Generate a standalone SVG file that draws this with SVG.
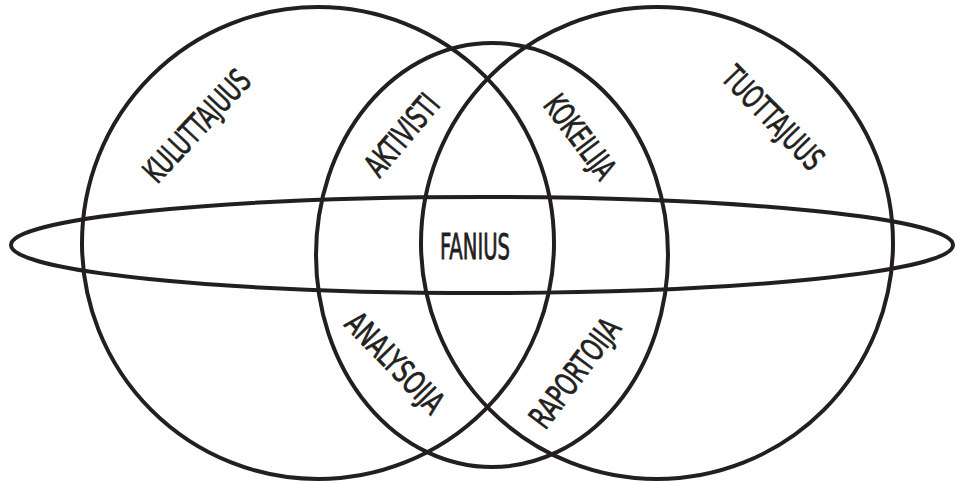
<svg xmlns="http://www.w3.org/2000/svg" width="957" height="483" viewBox="0 0 957 483">
<style>
.c{fill:none;stroke:#231f20;stroke-width:4}
.t{font-family:"Liberation Sans Narrow","DejaVu Sans Condensed","Liberation Sans",sans-serif;font-size:32px;fill:#231f20;stroke:#231f20;stroke-width:0.8;text-anchor:middle;dominant-baseline:central}
</style>
<rect width="957" height="483" fill="#ffffff"/>
<g id="connectors">
<circle id="kulutus" class="c" cx="318" cy="243" r="236"/>
<circle id="tuotanto" class="c" cx="657" cy="243" r="236"/>
<ellipse id="keski" class="c" cx="492" cy="255" rx="176" ry="212"/>
<ellipse id="vaaka" class="c" cx="482" cy="245" rx="471" ry="48"/>
</g>
<g id="n-kuluttajuus"><text class="t" transform="translate(197,126) rotate(-47)" textLength="140" lengthAdjust="spacingAndGlyphs">KULUTTAJUUS</text></g>
<g id="n-aktivisti"><text class="t" transform="translate(402,135) rotate(-50)" textLength="96" lengthAdjust="spacingAndGlyphs">AKTIVISTI</text></g>
<g id="n-kokeilija"><text class="t" transform="translate(580,137) rotate(53)" textLength="96" lengthAdjust="spacingAndGlyphs">KOKEILIJA</text></g>
<g id="n-tuottajuus"><text class="t" transform="translate(773,118) rotate(46)" textLength="130" lengthAdjust="spacingAndGlyphs">TUOTTAJUUS</text></g>
<g id="n-fanius"><text class="t" x="475" y="246" style="font-size:36px" textLength="70" lengthAdjust="spacingAndGlyphs">FANIUS</text></g>
<g id="n-analysoija"><text class="t" transform="translate(395,363) rotate(46)" textLength="126" lengthAdjust="spacingAndGlyphs">ANALYSOIJA</text></g>
<g id="n-raportoija"><text class="t" transform="translate(575,373) rotate(-53)" textLength="128" lengthAdjust="spacingAndGlyphs">RAPORTOIJA</text></g>
</svg>
